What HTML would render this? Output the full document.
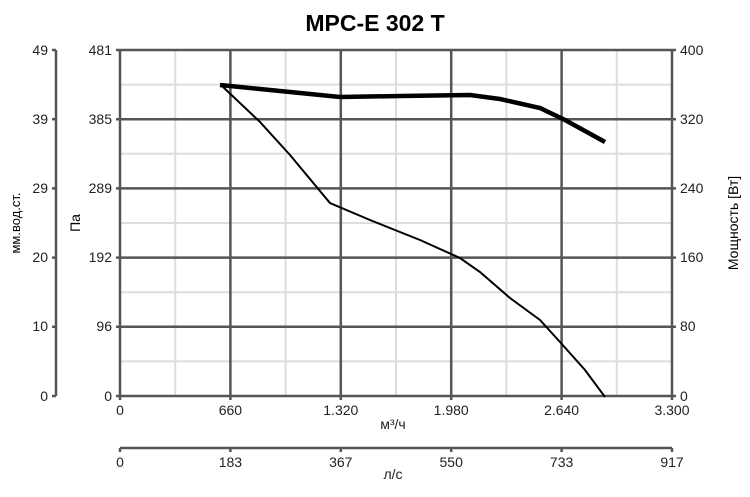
<!DOCTYPE html>
<html><head><style>body{margin:0;background:#fff}svg{display:block}</style></head><body>
<svg width="750" height="497" xmlns="http://www.w3.org/2000/svg" font-family="Liberation Sans, sans-serif">
<text x="375" y="31" text-anchor="middle" font-size="23" font-weight="bold">MPC-E 302 T</text>
<g stroke="#ddd" stroke-width="2">
<line x1="175.2" y1="50" x2="175.2" y2="396"/><line x1="285.6" y1="50" x2="285.6" y2="396"/><line x1="396" y1="50" x2="396" y2="396"/><line x1="506.4" y1="50" x2="506.4" y2="396"/><line x1="616.8" y1="50" x2="616.8" y2="396"/>
<line x1="120" y1="84.6" x2="672" y2="84.6"/><line x1="120" y1="153.8" x2="672" y2="153.8"/><line x1="120" y1="223" x2="672" y2="223"/><line x1="120" y1="292.2" x2="672" y2="292.2"/><line x1="120" y1="361.4" x2="672" y2="361.4"/>
</g>
<g stroke="#555" stroke-width="2.5">
<line x1="230.4" y1="50" x2="230.4" y2="400"/><line x1="340.8" y1="50" x2="340.8" y2="400"/><line x1="451.2" y1="50" x2="451.2" y2="400"/><line x1="561.6" y1="50" x2="561.6" y2="400"/>
<line x1="116" y1="119.2" x2="676" y2="119.2"/><line x1="116" y1="188.4" x2="676" y2="188.4"/><line x1="116" y1="257.6" x2="676" y2="257.6"/><line x1="116" y1="326.8" x2="676" y2="326.8"/>
<line x1="116" y1="50" x2="676" y2="50"/><line x1="116" y1="396" x2="676" y2="396"/>
<line x1="120" y1="50" x2="120" y2="400"/><line x1="672" y1="50" x2="672" y2="400"/>
<line x1="56" y1="50" x2="56" y2="396"/>
<line x1="120" y1="448" x2="672" y2="448"/>
</g>
<g stroke="#555" stroke-width="2.5">
<line x1="52" y1="50" x2="56" y2="50"/><line x1="52" y1="119.2" x2="56" y2="119.2"/><line x1="52" y1="188.4" x2="56" y2="188.4"/><line x1="52" y1="257.6" x2="56" y2="257.6"/><line x1="52" y1="326.8" x2="56" y2="326.8"/><line x1="52" y1="396" x2="56" y2="396"/>
<line x1="120" y1="448" x2="120" y2="452"/><line x1="230.4" y1="448" x2="230.4" y2="452"/><line x1="340.8" y1="448" x2="340.8" y2="452"/><line x1="451.2" y1="448" x2="451.2" y2="452"/><line x1="561.6" y1="448" x2="561.6" y2="452"/><line x1="672" y1="448" x2="672" y2="452"/>
</g>
<g font-size="14" fill="#222" text-anchor="end">
<text x="48" y="55">49</text><text x="48" y="124">39</text><text x="48" y="193">29</text><text x="48" y="262">20</text><text x="48" y="331">10</text><text x="48" y="401">0</text>
<text x="112" y="55">481</text><text x="112" y="124">385</text><text x="112" y="193">289</text><text x="112" y="262">192</text><text x="112" y="331">96</text><text x="112" y="401">0</text>
</g>
<g font-size="14" fill="#222" text-anchor="start">
<text x="680" y="55">400</text><text x="680" y="124">320</text><text x="680" y="193">240</text><text x="680" y="262">160</text><text x="680" y="331">80</text><text x="680" y="401">0</text>
</g>
<g font-size="14" fill="#222" text-anchor="middle">
<text x="120" y="415">0</text><text x="230.4" y="415">660</text><text x="340.8" y="415">1.320</text><text x="451.2" y="415">1.980</text><text x="561.6" y="415">2.640</text><text x="672" y="415">3.300</text>
<text x="120" y="467">0</text><text x="230.4" y="467">183</text><text x="340.8" y="467">367</text><text x="451.2" y="467">550</text><text x="561.6" y="467">733</text><text x="672" y="467">917</text>
<text x="393" y="429">м³/ч</text><text x="393" y="479">л/с</text>
</g>
<text transform="translate(20,223) rotate(-90)" font-size="13" text-anchor="middle">мм.вод.ст.</text>
<text transform="translate(80,223) rotate(-90)" font-size="14" text-anchor="middle">Па</text>
<text transform="translate(738,223) rotate(-90)" font-size="14" text-anchor="middle">Мощность [Вт]</text>
<polyline fill="none" stroke="#000" stroke-width="2" points="222,86 260,122 290,155 330,203 370,220 420,240 460,258 480,272 510,298 540,320 560,342 585,370 605,397"/>
<polyline fill="none" stroke="#000" stroke-width="4.5" points="220,85 260,89 300,93 340,97 400,96 470,95 500,99 540,108 565,120 605,142"/>
</svg>
</body></html>
